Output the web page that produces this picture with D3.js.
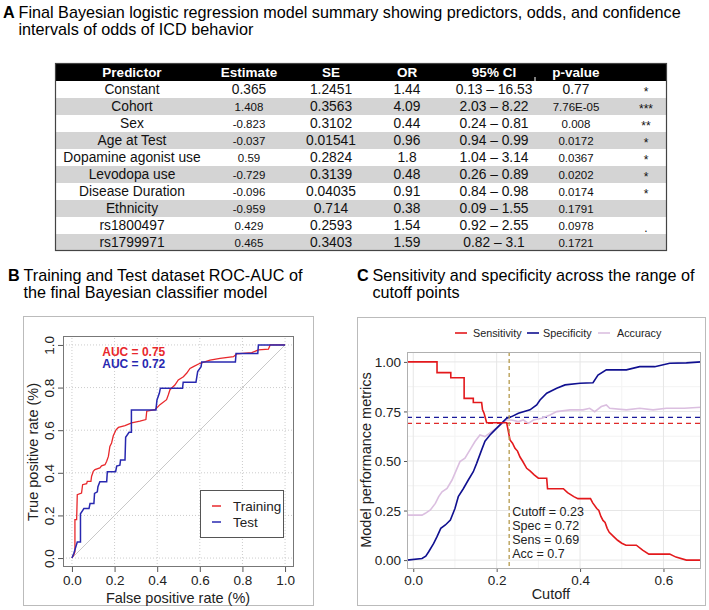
<!DOCTYPE html>
<html><head><meta charset="utf-8">
<script src="https://cdn.jsdelivr.net/npm/d3@7"></script>
<style>body{margin:0;background:#fff}svg{display:block;font-family:"Liberation Sans",Arial,sans-serif}</style>
</head><body>
<svg id="c" width="709" height="610"></svg>
<script>
// ---------- DATA ----------
const tableHeader = ["Predictor","Estimate","SE","OR","95% CI","p-value",""];
const predictors = ["Constant","Cohort","Sex","Age at Test","Dopamine agonist use","Levodopa use","Disease Duration","Ethnicity","rs1800497","rs1799971"];
const estimates = ["0.365","1.408","-0.823","-0.037","0.59","-0.729","-0.096","-0.959","0.429","0.465"];
const seValues = ["1.2451","0.3563","0.3102","0.01541","0.2824","0.3139","0.04035","0.714","0.2593","0.3403"];
const orValues = ["1.44","4.09","0.44","0.96","1.8","0.48","0.91","0.38","1.54","1.59"];
const ciValues = ["0.13 – 16.53","2.03 – 8.22","0.24 – 0.81","0.94 – 0.99","1.04 – 3.14","0.26 – 0.89","0.84 – 0.98","0.09 – 1.55","0.92 – 2.55","0.82 – 3.1"];
const pValues = ["0.77","7.76E-05","0.008","0.0172","0.0367","0.0202","0.0174","0.1791","0.0978","0.1721"];
const signif = ["*","***","**","*","*","*","*","","."," "];

const rocTicks = [0,0.2,0.4,0.6,0.8,1.0];
const rocTrain = [[0,0],[0.009,0.016],[0.014,0.03],[0.014,0.18],[0.022,0.18],[0.025,0.297],[0.045,0.305],[0.05,0.344],[0.069,0.349],[0.072,0.36],[0.089,0.36],[0.092,0.383],[0.1,0.407],[0.108,0.415],[0.131,0.423],[0.139,0.433],[0.155,0.438],[0.163,0.454],[0.171,0.477],[0.178,0.524],[0.186,0.54],[0.194,0.574],[0.207,0.602],[0.218,0.613],[0.249,0.621],[0.28,0.634],[0.319,0.642],[0.347,0.65],[0.351,0.689],[0.39,0.696],[0.413,0.72],[0.444,0.743],[0.452,0.765],[0.46,0.79],[0.483,0.812],[0.499,0.836],[0.523,0.851],[0.538,0.867],[0.554,0.89],[0.57,0.898],[0.601,0.914],[0.648,0.929],[0.695,0.937],[0.758,0.945],[0.773,0.958],[0.844,0.964],[0.875,0.977],[0.922,0.98],[0.93,1.0],[1.0,1.0]];
const rocTest = [[0,0],[0.009,0.023],[0.025,0.075],[0.04,0.075],[0.04,0.208],[0.056,0.232],[0.08,0.232],[0.085,0.256],[0.103,0.256],[0.106,0.303],[0.119,0.311],[0.122,0.335],[0.131,0.358],[0.163,0.358],[0.166,0.405],[0.205,0.405],[0.21,0.432],[0.225,0.436],[0.228,0.46],[0.249,0.46],[0.252,0.567],[0.268,0.59],[0.279,0.59],[0.279,0.695],[0.394,0.695],[0.399,0.742],[0.41,0.773],[0.415,0.797],[0.519,0.797],[0.522,0.825],[0.582,0.825],[0.59,0.875],[0.606,0.898],[0.609,0.92],[0.767,0.92],[0.77,0.96],[0.872,0.96],[0.875,1.0],[1,1]];
const aucLabels = ["AUC = 0.75","AUC = 0.72"];
const rocLegend = ["Training","Test"];

const cutXTicks = [0,0.2,0.4,0.6];
const cutYTicks = [0,0.25,0.5,0.75,1.0];
const sensitivity = [[-0.015,1],[0.057,1],[0.057,0.946],[0.090,0.946],[0.090,0.92],[0.122,0.92],[0.122,0.816],[0.144,0.816],[0.144,0.795],[0.164,0.795],[0.166,0.76],[0.170,0.74],[0.176,0.693],[0.224,0.693],[0.228,0.65],[0.232,0.606],[0.238,0.59],[0.244,0.564],[0.25,0.55],[0.256,0.52],[0.262,0.50],[0.272,0.463],[0.28,0.45],[0.29,0.43],[0.30,0.413],[0.32,0.413],[0.322,0.36],[0.36,0.36],[0.37,0.34],[0.385,0.32],[0.395,0.31],[0.425,0.31],[0.43,0.29],[0.44,0.26],[0.445,0.25],[0.45,0.22],[0.455,0.20],[0.46,0.19],[0.465,0.16],[0.47,0.14],[0.48,0.12],[0.49,0.10],[0.50,0.085],[0.51,0.075],[0.535,0.075],[0.55,0.05],[0.565,0.03],[0.615,0.03],[0.63,0.015],[0.655,0],[0.69,0]];
const specificity = [[-0.015,0],[0.021,0.008],[0.03,0.02],[0.037,0.042],[0.049,0.084],[0.057,0.118],[0.066,0.16],[0.077,0.177],[0.089,0.202],[0.10,0.26],[0.108,0.32],[0.12,0.36],[0.132,0.404],[0.144,0.446],[0.152,0.488],[0.164,0.556],[0.172,0.60],[0.184,0.631],[0.196,0.657],[0.208,0.682],[0.224,0.716],[0.236,0.724],[0.252,0.741],[0.28,0.758],[0.296,0.783],[0.304,0.808],[0.32,0.842],[0.344,0.867],[0.364,0.884],[0.40,0.892],[0.431,0.895],[0.443,0.934],[0.463,0.96],[0.511,0.96],[0.543,0.976],[0.579,0.976],[0.615,0.993],[0.655,0.995],[0.69,1.0]];
const accuracy = [[-0.015,0.227],[0.021,0.227],[0.029,0.236],[0.041,0.253],[0.053,0.286],[0.061,0.32],[0.069,0.345],[0.081,0.362],[0.093,0.404],[0.105,0.463],[0.112,0.497],[0.124,0.514],[0.136,0.556],[0.148,0.598],[0.16,0.631],[0.172,0.623],[0.188,0.648],[0.204,0.673],[0.224,0.707],[0.236,0.707],[0.252,0.699],[0.264,0.707],[0.276,0.69],[0.288,0.707],[0.308,0.716],[0.328,0.732],[0.344,0.749],[0.376,0.758],[0.407,0.758],[0.423,0.766],[0.435,0.749],[0.451,0.775],[0.463,0.783],[0.471,0.766],[0.511,0.758],[0.543,0.766],[0.575,0.758],[0.607,0.766],[0.65,0.766],[0.69,0.771]];
const cutLegend = ["Sensitivity","Specificity","Accuracy"];
const optCutoff = 0.23, optSpec = 0.72, optSens = 0.69, optAcc = 0.7;
const annotLines = ["Cutoff = 0.23","Spec = 0.72","Sens = 0.69","Acc = 0.7"];

// ---------- DRAW ----------
const svg = d3.select("#c");
const F = '"Liberation Sans",Arial,sans-serif';
const TFS = 16.2;

function title(x, y, letter, lines){
  const g = svg.append("g");
  g.append("text").attr("x",x).attr("y",y).attr("font-size",TFS).attr("font-weight","bold").text(letter);
  lines.forEach((l,i)=>g.append("text").attr("x",x+15.5).attr("y",y+i*17).attr("font-size",TFS).text(l));
}
title(3,18,"A",["Final Bayesian logistic regression model summary showing predictors, odds,  and confidence","intervals of odds of ICD behavior"]);

// Table
const tL=55,tR=667,tTop=63,hH=18,rH=17;
const colX=[132,249,331,407,494,576,646];
const tg=svg.append("g");
tg.append("rect").attr("x",tL).attr("y",tTop).attr("width",tR-tL).attr("height",hH).attr("fill","#000");
tableHeader.forEach((h,i)=>tg.append("text").attr("x",colX[i]).attr("y",tTop+hH/2+5).attr("text-anchor","middle")
  .attr("fill","#fff").attr("font-weight","bold").attr("font-size",13.5).text(h));
tg.append("line").attr("x1",535).attr("x2",535).attr("y1",tTop+hH-4).attr("y2",tTop+hH).attr("stroke","#fff");
predictors.forEach((p,r)=>{
  const y0=tTop+hH+r*rH;
  tg.append("rect").attr("x",tL).attr("y",y0).attr("width",tR-tL).attr("height",rH).attr("fill", r%2? "#d4d4d4":"#fff");
  const cells=[p,estimates[r],seValues[r],orValues[r],ciValues[r],pValues[r],signif[r]];
  cells.forEach((c,i)=>{
    let fs=13.8;
    if((i===1||i===5)&&r>0) fs=11.5;
    tg.append("text").attr("x",colX[i]).attr("y",y0+rH/2+(i===6?6:4.8)).attr("text-anchor","middle")
      .attr("font-size",i===6?12:fs).attr("fill","#111").text(c);
  });
});
tg.append("rect").attr("x",tL+0.5).attr("y",tTop+0.5).attr("width",tR-tL-1).attr("height",hH+rH*predictors.length-1)
  .attr("fill","none").attr("stroke","#444").attr("stroke-width",1.2);

// Panel B
title(8,281,"B",["Training and Test dataset ROC-AUC of","the final Bayesian classifier model"]);
svg.append("rect").attr("x",23.5).attr("y",316.5).attr("width",290).attr("height",289).attr("fill","none").attr("stroke","#bbb");
const bx=d3.scaleLinear().domain([-0.042,1.042]).range([63,294]);
const by=d3.scaleLinear().domain([-0.042,1.042]).range([567,336]);
const bg=svg.append("g");
rocTicks.forEach(t=>{
  bg.append("line").attr("x1",bx(t)).attr("x2",bx(t)).attr("y1",by.range()[0]).attr("y2",by.range()[1]).attr("stroke","#ccc").attr("stroke-dasharray","1,2");
  bg.append("line").attr("y1",by(t)).attr("y2",by(t)).attr("x1",bx.range()[0]).attr("x2",bx.range()[1]).attr("stroke","#ccc").attr("stroke-dasharray","1,2");
});
bg.append("line").attr("x1",bx(0)).attr("y1",by(0)).attr("x2",bx(1)).attr("y2",by(1)).attr("stroke","#c8c8c8");
const lineB=d3.line().x(d=>bx(d[0])).y(d=>by(d[1]));
bg.append("path").datum(rocTrain).attr("d",lineB).attr("fill","none").attr("stroke","#e8282c").attr("stroke-width",1.3);
bg.append("path").datum(rocTest).attr("d",lineB).attr("fill","none").attr("stroke","#2828b0").attr("stroke-width",1.5);
bg.append("rect").attr("x",63.5).attr("y",336.5).attr("width",230).attr("height",230).attr("fill","none").attr("stroke","#777");
const axB=bg.append("g").attr("transform","translate(0,567)").call(d3.axisBottom(bx).tickValues(rocTicks).tickFormat(d3.format(".1f")).tickSize(5).tickSizeOuter(0));
const ayB=bg.append("g").attr("transform","translate(63,0)").call(d3.axisLeft(by).tickValues(rocTicks).tickFormat(d3.format(".1f")).tickSize(5).tickSizeOuter(0));
[axB,ayB].forEach(a=>{a.select(".domain").remove();a.selectAll("line").attr("stroke","#555");a.selectAll("text").attr("font-family",F).attr("font-size",13.5).attr("fill","#222");});
axB.selectAll("text").attr("dy","0.75em");
ayB.selectAll("text").attr("x",0).attr("y",0).attr("dy",0).attr("text-anchor","middle").attr("transform","translate(-9,0) rotate(-90)");
bg.append("text").attr("x",178).attr("y",603).attr("text-anchor","middle").attr("font-size",14.5).attr("fill","#222").text("False positive rate (%)");
bg.append("text").attr("transform","translate(38,452) rotate(-90)").attr("text-anchor","middle").attr("font-size",14.5).attr("fill","#222").text("True positive rate (%)");
bg.append("text").attr("x",bx(0.29)).attr("y",by(0.95)).attr("text-anchor","middle").attr("font-size",12).attr("font-weight","bold").attr("fill","#e8282c").text(aucLabels[0]);
bg.append("text").attr("x",bx(0.29)).attr("y",by(0.893)).attr("text-anchor","middle").attr("font-size",12).attr("font-weight","bold").attr("fill","#2828b0").text(aucLabels[1]);
bg.append("rect").attr("x",200.5).attr("y",490.5).attr("width",83).attr("height",47).attr("fill","#fff").attr("stroke","#555");
[["#e8282c",0],["#2828b0",1]].forEach(([c,i])=>{
  const yy=506+i*16;
  bg.append("line").attr("x1",212).attr("x2",221).attr("y1",yy).attr("y2",yy).attr("stroke",c).attr("stroke-width",1.5);
  bg.append("text").attr("x",233).attr("y",yy+4.5).attr("font-size",13.5).attr("fill","#222").text(rocLegend[i]);
});

// Panel C
title(357,281,"C",["Sensitivity and specificity across the range of","cutoff points"]);
svg.append("rect").attr("x",357.5).attr("y",317.5).attr("width",348).attr("height",288).attr("fill","none").attr("stroke","#bbb");
const cx=d3.scaleLinear().domain([-0.015,0.69]).range([407,701]);
const cy=d3.scaleLinear().domain([-0.045,1.05]).range([569,352]);
const cg=svg.append("g");
[0.1,0.3,0.5].forEach(t=>cg.append("line").attr("x1",cx(t)).attr("x2",cx(t)).attr("y1",352).attr("y2",569).attr("stroke","#f3f3f3"));
[0.125,0.375,0.625,0.875].forEach(t=>cg.append("line").attr("y1",cy(t)).attr("y2",cy(t)).attr("x1",407).attr("x2",701).attr("stroke","#f3f3f3"));
cutXTicks.forEach(t=>cg.append("line").attr("x1",cx(t)).attr("x2",cx(t)).attr("y1",352).attr("y2",569).attr("stroke","#e6e6e6"));
cutYTicks.forEach(t=>cg.append("line").attr("y1",cy(t)).attr("y2",cy(t)).attr("x1",407).attr("x2",701).attr("stroke","#e6e6e6"));
const lineC=d3.line().x(d=>cx(d[0])).y(d=>cy(d[1]));
cg.append("line").attr("x1",407).attr("x2",701).attr("y1",cy(optSpec)).attr("y2",cy(optSpec)).attr("stroke","#1a1a9a").attr("stroke-width",1.3).attr("stroke-dasharray","5,4");
cg.append("line").attr("x1",407).attr("x2",701).attr("y1",cy(optSens)).attr("y2",cy(optSens)).attr("stroke","#e02a2a").attr("stroke-width",1.3).attr("stroke-dasharray","5,4");
cg.append("path").datum(accuracy).attr("d",lineC).attr("fill","none").attr("stroke","#dbbfe0").attr("stroke-width",1.6);
cg.append("path").datum(specificity).attr("d",lineC).attr("fill","none").attr("stroke","#101090").attr("stroke-width",1.6);
cg.append("path").datum(sensitivity).attr("d",lineC).attr("fill","none").attr("stroke","#e3191c").attr("stroke-width",1.6);
cg.append("line").attr("x1",cx(optCutoff)).attr("x2",cx(optCutoff)).attr("y1",352).attr("y2",569).attr("stroke","#b59a4c").attr("stroke-width",1.3).attr("stroke-dasharray","4,3");
cg.append("rect").attr("x",407.5).attr("y",352.5).attr("width",293).attr("height",216).attr("fill","none").attr("stroke","#b0b0b0");
const axC=cg.append("g").attr("transform","translate(0,569)").call(d3.axisBottom(cx).tickValues(cutXTicks).tickFormat(d3.format(".1f")).tickSize(3).tickSizeOuter(0));
const ayC=cg.append("g").attr("transform","translate(407,0)").call(d3.axisLeft(cy).tickValues(cutYTicks).tickFormat(d3.format(".2f")).tickSize(3).tickSizeOuter(0));
[axC,ayC].forEach(a=>{a.select(".domain").remove();a.selectAll("line").attr("stroke","#555");a.selectAll("text").attr("font-family",F).attr("font-size",13.5).attr("fill","#222");});
axC.selectAll("text").attr("dy","0.75em");
ayC.selectAll("text").attr("dy","0.35em");
cg.append("text").attr("x",cx(0.33)).attr("y",599).attr("text-anchor","middle").attr("font-size",14.5).attr("fill","#222").text("Cutoff");
cg.append("text").attr("transform","translate(371,460) rotate(-90)").attr("text-anchor","middle").attr("font-size",14.5).attr("fill","#222").text("Model performance metrics");
annotLines.forEach((t,i)=>cg.append("text").attr("x",cx(optCutoff)+3).attr("y",516+i*14).attr("font-size",12.5).attr("fill","#222").text(t));
const legX=[455,527,598], legTX=[473,543,617], legC=["#e3191c","#101090","#dbbfe0"];
cutLegend.forEach((l,i)=>{
  cg.append("line").attr("x1",legX[i]).attr("x2",legX[i]+12).attr("y1",333).attr("y2",333).attr("stroke",legC[i]).attr("stroke-width",1.6);
  cg.append("text").attr("x",legTX[i]).attr("y",337).attr("font-size",10.8).attr("fill","#222").text(l);
});
</script>
</body></html>
